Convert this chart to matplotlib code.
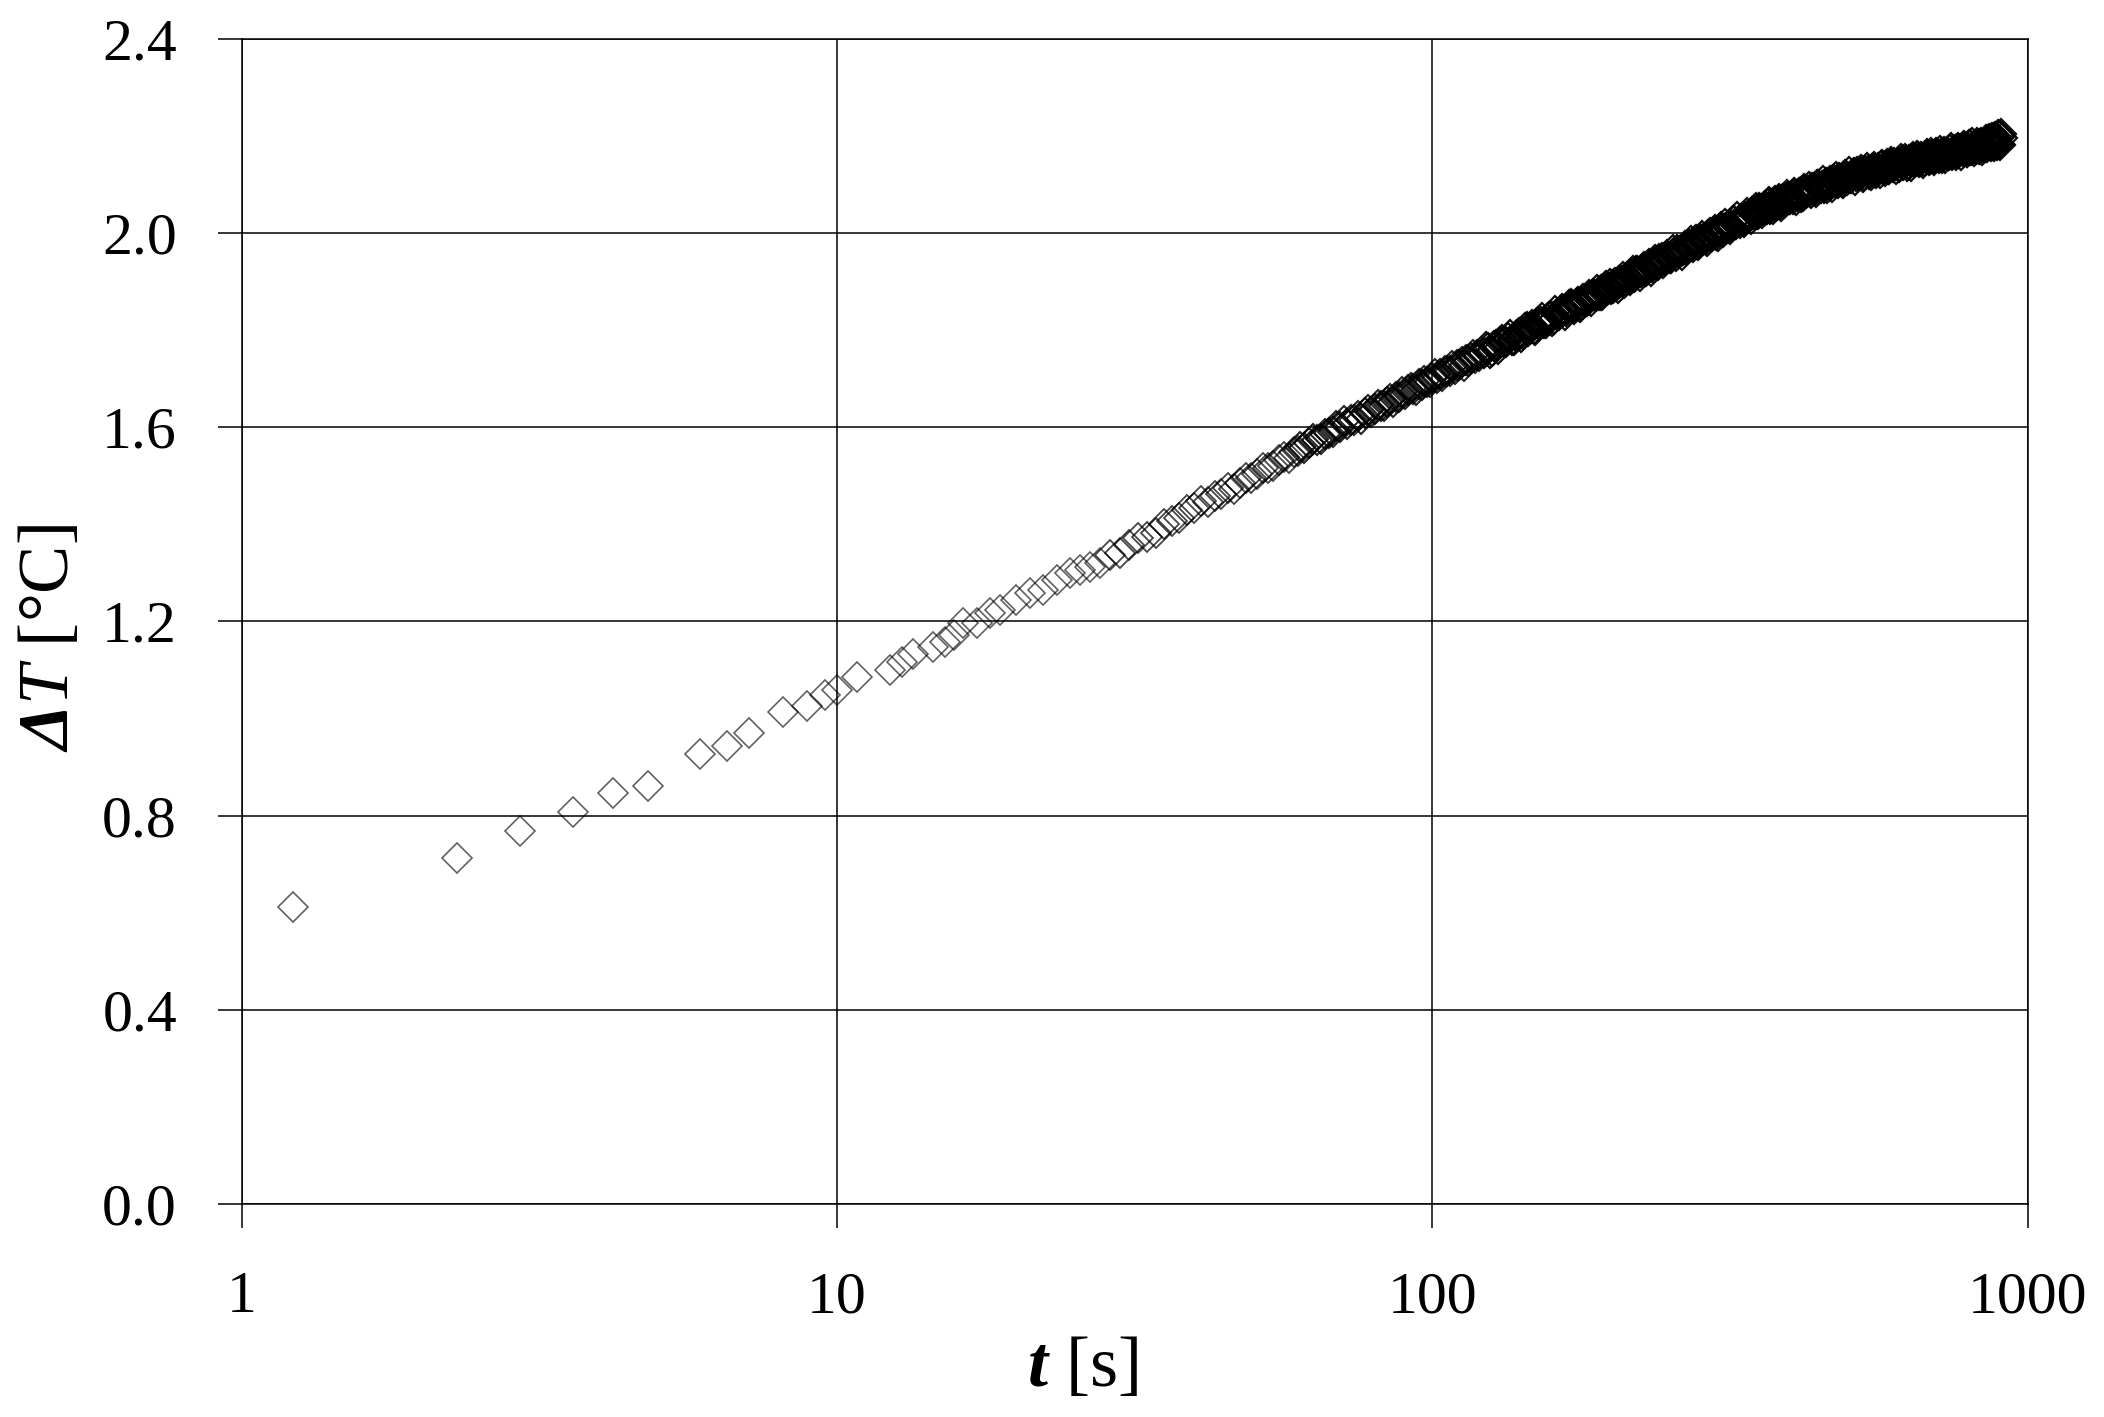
import matplotlib
matplotlib.use("Agg")
import matplotlib as mpl
import matplotlib.pyplot as plt
from matplotlib.ticker import FixedLocator, FixedFormatter, NullLocator

# ---------------- data ----------------
t_sparse = [1.22, 2.30, 2.94, 3.61, 4.20, 4.81, 5.88, 6.55, 7.12, 8.13,
            8.90, 9.55, 10.0, 10.8, 12.3, 12.85, 13.4, 14.5, 15.2, 15.7,
            16.3, 17.2, 18.1, 18.8, 20.0, 21.1, 22.2, 23.4, 24.6, 25.6,
            26.6, 27.7]
dT_sparse = [0.611, 0.712, 0.768, 0.808, 0.847, 0.861, 0.927, 0.944, 0.971, 1.014,
             1.025, 1.049, 1.059, 1.085, 1.100, 1.117, 1.134, 1.148, 1.158, 1.172,
             1.196, 1.196, 1.217, 1.224, 1.244, 1.258, 1.265, 1.286, 1.299, 1.306,
             1.313, 1.320]

t_b = [28.8, 29.9, 31.0, 32.1, 33.2, 34.3, 35.4, 36.5, 37.6, 38.7,
       39.8, 40.9, 42.0, 43.1, 44.2, 45.3, 46.4, 47.5, 48.6, 49.7,
       50.8, 51.9, 53.0, 54.1, 55.2, 56.3, 57.4, 58.5, 59.6]
dT_b = [1.337, 1.341, 1.357, 1.372, 1.375, 1.383, 1.400, 1.407, 1.414, 1.430,
        1.434, 1.449, 1.446, 1.459, 1.463, 1.474, 1.472, 1.486, 1.495, 1.495,
        1.504, 1.516, 1.516, 1.520, 1.532, 1.539, 1.537, 1.549, 1.552]

t_c = [60, 61, 62, 63, 64, 65, 66, 67, 68, 69,
       70, 71, 72, 73, 74, 75, 76, 77, 78, 79,
       80, 81, 82, 83, 84, 85, 86, 87, 88, 89,
       90, 91, 92, 93, 94, 95, 96, 97, 98, 99,
       100, 101, 102, 103, 104, 105, 106, 107, 108, 109,
       110, 111, 112, 113, 114, 115, 116, 117, 118, 119, 120]
dT_c = [1.559, 1.557, 1.567, 1.576, 1.573, 1.575, 1.586, 1.589, 1.590, 1.602,
        1.601, 1.612, 1.606, 1.615, 1.615, 1.624, 1.618, 1.629, 1.635, 1.632,
        1.638, 1.646, 1.644, 1.644, 1.653, 1.658, 1.653, 1.662, 1.662, 1.672,
        1.668, 1.676, 1.682, 1.679, 1.677, 1.689, 1.687, 1.696, 1.694, 1.693,
        1.702, 1.709, 1.702, 1.709, 1.706, 1.716, 1.716, 1.717, 1.726, 1.720,
        1.728, 1.728, 1.735, 1.727, 1.739, 1.736, 1.742, 1.748, 1.742, 1.748, 1.746]

t_d = [122, 124, 126, 128, 130, 132, 134, 136, 138, 140,
       142, 144, 146, 148, 150, 152, 154, 156, 158, 160,
       162, 164, 166, 168, 170, 172, 174, 176, 178, 180,
       182, 184, 186, 188, 190, 192, 194, 196, 198, 200,
       202, 204, 206, 208, 210, 212, 214, 216, 218, 220,
       222, 224, 226, 228, 230, 232, 234, 236, 238, 240]
dT_d = [1.753, 1.763, 1.758, 1.769, 1.775, 1.775, 1.785, 1.780, 1.788, 1.794,
        1.793, 1.806, 1.802, 1.803, 1.814, 1.816, 1.815, 1.824, 1.830, 1.823,
        1.833, 1.835, 1.842, 1.839, 1.851, 1.849, 1.850, 1.859, 1.853, 1.863,
        1.861, 1.868, 1.875, 1.871, 1.872, 1.882, 1.882, 1.891, 1.887, 1.885,
        1.895, 1.893, 1.902, 1.902, 1.898, 1.909, 1.908, 1.913, 1.910, 1.921,
        1.919, 1.919, 1.927, 1.921, 1.930, 1.935, 1.930, 1.938, 1.937, 1.946]

t_d2 = [123, 125, 127, 129, 131, 133, 135, 137, 139, 141,
        143, 145, 147, 149, 151, 153, 155, 157, 159, 161,
        163, 165, 167, 169, 171, 173, 175, 177, 179, 181,
        183, 185, 187, 189, 191, 193, 195, 197, 199, 201,
        203, 205, 207, 209, 211, 213, 215, 217, 219, 221,
        223, 225, 227, 229, 231, 233, 235, 237, 239]
dT_d2 = [1.765, 1.754, 1.768, 1.761, 1.780, 1.776, 1.791, 1.780, 1.791, 1.786,
         1.805, 1.798, 1.811, 1.800, 1.815, 1.825, 1.815, 1.828, 1.820, 1.840,
         1.831, 1.843, 1.832, 1.845, 1.854, 1.844, 1.856, 1.847, 1.864, 1.861,
         1.873, 1.861, 1.873, 1.883, 1.873, 1.872, 1.889, 1.884, 1.896, 1.886,
         1.898, 1.888, 1.900, 1.910, 1.899, 1.910, 1.903, 1.921, 1.912, 1.922,
         1.912, 1.924, 1.931, 1.923, 1.937, 1.923, 1.935, 1.945, 1.934]

t_e = [243, 246, 249, 252, 255, 258, 261, 264, 267, 270,
       273, 276, 279, 282, 285, 288, 291, 294, 297, 300,
       303, 306, 309, 312, 315, 318, 321, 324, 327, 330,
       333, 336, 339, 342, 345, 348, 351, 354, 357, 360,
       363, 366, 369, 372, 375, 378, 381, 384, 387, 390,
       393, 396, 399]
dT_e = [1.948, 1.944, 1.951, 1.949, 1.959, 1.966, 1.961, 1.966, 1.966, 1.976,
        1.975, 1.984, 1.976, 1.987, 1.988, 1.987, 1.997, 1.994, 2.002, 1.996,
        2.004, 2.013, 2.009, 2.008, 2.017, 2.015, 2.025, 2.019, 2.026, 2.030,
        2.024, 2.034, 2.035, 2.036, 2.044, 2.038, 2.046, 2.051, 2.045, 2.051,
        2.050, 2.060, 2.050, 2.060, 2.058, 2.061, 2.066, 2.061, 2.068, 2.063,
        2.070, 2.074, 2.070]

t_e2 = [244.5, 247.5, 250.5, 253.5, 256.5, 259.5, 262.5, 265.5, 268.5, 271.5,
        274.5, 277.5, 280.5, 283.5, 286.5, 289.5, 292.5, 295.5, 298.5, 301.5,
        304.5, 307.5, 310.5, 313.5, 316.5, 319.5, 322.5, 325.5, 328.5, 331.5,
        334.5, 337.5, 340.5, 343.5, 346.5, 349.5, 352.5, 355.5, 358.5, 361.5,
        364.5, 367.5, 370.5, 373.5, 376.5, 379.5, 382.5, 385.5, 388.5, 391.5,
        394.5, 397.5]
dT_e2 = [1.938, 1.956, 1.949, 1.965, 1.953, 1.964, 1.956, 1.974, 1.971, 1.983,
         1.971, 1.985, 1.979, 1.995, 1.987, 1.984, 2.000, 1.994, 2.007, 1.994,
         2.009, 2.003, 2.019, 2.013, 2.009, 2.025, 2.018, 2.033, 2.021, 2.030,
         2.023, 2.041, 2.034, 2.030, 2.045, 2.051, 2.039, 2.049, 2.042, 2.056,
         2.049, 2.064, 2.055, 2.050, 2.066, 2.059, 2.070, 2.056, 2.070, 2.064,
         2.078, 2.070]

t_f = [403, 407, 411, 415, 419, 423, 427, 431, 435, 439,
       443, 447, 451, 455, 459, 463, 467, 471, 475, 479,
       483, 487, 491, 495, 499, 503, 507, 511, 515, 519,
       523, 527, 531, 535, 539, 543, 547, 551, 555, 559,
       563, 567, 571, 575, 579, 583, 587, 591, 595, 599]
dT_f = [2.071, 2.081, 2.077, 2.082, 2.076, 2.088, 2.086, 2.086, 2.093, 2.088,
        2.099, 2.094, 2.098, 2.094, 2.103, 2.104, 2.101, 2.110, 2.105, 2.108,
        2.113, 2.105, 2.113, 2.117, 2.114, 2.113, 2.120, 2.124, 2.117, 2.122,
        2.120, 2.129, 2.119, 2.125, 2.129, 2.126, 2.132, 2.126, 2.132, 2.127,
        2.133, 2.138, 2.132, 2.134, 2.139, 2.132, 2.140, 2.143, 2.137, 2.141]

t_f2 = [405, 409, 413, 417, 421, 425, 429, 433, 437, 441,
        445, 449, 453, 457, 461, 465, 469, 473, 477, 481,
        485, 489, 493, 497, 501, 505, 509, 513, 517, 521,
        525, 529, 533, 537, 541, 545, 549, 553, 557, 561,
        565, 569, 573, 577, 581, 585, 589, 593, 597, 601]
dT_f2 = [2.082, 2.068, 2.083, 2.075, 2.091, 2.082, 2.096, 2.082, 2.093, 2.085,
         2.100, 2.092, 2.107, 2.097, 2.094, 2.108, 2.095, 2.109, 2.115, 2.103,
         2.111, 2.103, 2.120, 2.109, 2.125, 2.114, 2.122, 2.110, 2.126, 2.120,
         2.130, 2.116, 2.127, 2.134, 2.121, 2.119, 2.130, 2.136, 2.124, 2.135,
         2.123, 2.141, 2.132, 2.128, 2.142, 2.133, 2.147, 2.138, 2.145, 2.133]

t_g = [605, 610, 615, 620, 625, 630, 635, 640, 645, 650,
       655, 660, 665, 670, 675, 680, 685, 690, 695, 700,
       705, 710, 715, 720, 725, 730, 735, 740, 745, 750,
       755, 760, 765, 770, 775, 780, 785, 790, 795, 800,
       805, 810, 815, 820, 825, 830, 835, 840, 845, 850,
       855, 860, 865, 870, 875, 880, 885, 890, 895, 900,
       903, 906]
dT_g = [2.144, 2.139, 2.149, 2.144, 2.149, 2.141, 2.148, 2.152, 2.147, 2.150,
        2.157, 2.149, 2.155, 2.149, 2.156, 2.159, 2.152, 2.162, 2.157, 2.157,
        2.164, 2.155, 2.163, 2.165, 2.160, 2.165, 2.160, 2.171, 2.166, 2.165,
        2.171, 2.165, 2.174, 2.169, 2.173, 2.169, 2.176, 2.168, 2.175, 2.181,
        2.174, 2.176, 2.180, 2.174, 2.181, 2.179, 2.185, 2.178, 2.183, 2.187,
        2.178, 2.191, 2.181, 2.194, 2.182, 2.196, 2.185, 2.195, 2.183, 2.201,
        2.205, 2.196]

t_g2 = [607.5, 612.5, 617.5, 622.5, 627.5, 632.5, 637.5, 642.5, 647.5, 652.5,
        657.5, 662.5, 667.5, 672.5, 677.5, 682.5, 687.5, 692.5, 697.5, 702.5,
        707.5, 712.5, 717.5, 722.5, 727.5, 732.5, 737.5, 742.5, 747.5, 752.5,
        757.5, 762.5, 767.5, 772.5, 777.5, 782.5, 787.5, 792.5, 797.5, 802.5,
        807.5, 812.5, 817.5, 822.5, 827.5, 832.5, 837.5, 842.5, 847.5, 852.5,
        857.5, 862.5, 867.5, 872.5, 877.5, 882.5, 887.5, 892.5, 897.5]
dT_g2 = [2.136, 2.153, 2.141, 2.152, 2.139, 2.150, 2.139, 2.156, 2.148, 2.159,
         2.146, 2.157, 2.145, 2.157, 2.163, 2.151, 2.166, 2.155, 2.151, 2.166,
         2.160, 2.169, 2.155, 2.168, 2.155, 2.168, 2.161, 2.175, 2.161, 2.169,
         2.161, 2.176, 2.167, 2.162, 2.177, 2.180, 2.171, 2.167, 2.181, 2.172,
         2.185, 2.169, 2.180, 2.186, 2.174, 2.184, 2.172, 2.183, 2.178, 2.192,
         2.181, 2.194, 2.180, 2.197, 2.179, 2.199, 2.182, 2.202, 2.182]

x_ticks = [1, 10, 100, 1000]
x_tick_labels = ["1", "10", "100", "1000"]
y_ticks = [0.0, 0.4, 0.8, 1.2, 1.6, 2.0, 2.4]
y_tick_labels = ["0.0", "0.4", "0.8", "1.2", "1.6", "2.0", "2.4"]


def paired(tt, dd):
    n = min(len(tt), len(dd))
    return list(tt[:n]), list(dd[:n])


# ---------------- style ----------------
serif = "Liberation Serif"
plt.rcParams["font.family"] = [serif, "DejaVu Serif"]
plt.rcParams["mathtext.fontset"] = "custom"
plt.rcParams["mathtext.rm"] = serif
plt.rcParams["mathtext.it"] = serif + ":italic"
plt.rcParams["mathtext.bf"] = serif + ":bold"
has_bfit = "mathtext.bfit" in mpl.rcParams
if has_bfit:
    plt.rcParams["mathtext.bfit"] = serif + ":italic:bold"
bfit = r"\mathbfit" if has_bfit else r"\mathbf"

fig = plt.figure(figsize=(21.04, 14.17), dpi=100)
fig.patch.set_facecolor("white")
ax = fig.add_axes([0.1148, 0.1503, 0.8489, 0.8222])

# one series; outlines overlap and darken where samples are dense
segments = [
    ((t_sparse, dT_sparse), 0.62, 1.2),
    ((t_b, dT_b), 0.72, 1.3),
    ((t_c, dT_c), 0.85, 1.5),
    ((t_d, dT_d), 0.95, 1.6),
    ((t_d2, dT_d2), 0.95, 1.6),
    ((t_e, dT_e), 0.95, 1.6),
    ((t_e2, dT_e2), 0.95, 1.6),
    ((t_f, dT_f), 0.95, 1.6),
    ((t_f2, dT_f2), 0.95, 1.6),
    ((t_g, dT_g), 0.95, 1.6),
    ((t_g2, dT_g2), 0.95, 1.6),
]
for (tt, dd), alpha, mew in segments:
    x, y = paired(tt, dd)
    ax.plot(x, y, linestyle="none", marker="D", markersize=15,
            markerfacecolor="none", markeredgecolor="black",
            markeredgewidth=mew, alpha=alpha, zorder=3)

ax.set_xscale("log")
ax.set_xlim(1, 1000)
ax.set_ylim(0, 2.4)
ax.xaxis.set_major_locator(FixedLocator(x_ticks))
ax.xaxis.set_major_formatter(FixedFormatter(x_tick_labels))
ax.xaxis.set_minor_locator(NullLocator())
ax.yaxis.set_major_locator(FixedLocator(y_ticks))
ax.yaxis.set_major_formatter(FixedFormatter(y_tick_labels))
ax.yaxis.set_minor_locator(NullLocator())

ax.grid(True, which="major", color="black", linewidth=1.1)
for sp in ax.spines.values():
    sp.set_color("black")
    sp.set_linewidth(1.1)

ax.tick_params(axis="both", which="major", direction="out", length=17.5,
               width=1.1, color="black", labelsize=43, labelcolor="black")
ax.tick_params(axis="x", pad=31)
ax.tick_params(axis="y", pad=29)

ax.set_xlabel(r"$%s{t}$ [s]" % bfit, fontsize=52)
ax.set_ylabel(r"$%s{\Delta}\mathit{T}$ [°C]" % bfit, fontsize=52)
ax.xaxis.set_label_coords(0.471, -0.113)
ax.yaxis.set_label_coords(-0.107, 0.486)
ax.xaxis.label.set_verticalalignment("top")
ax.yaxis.label.set_verticalalignment("center")

fig.savefig("out.png", dpi=100, facecolor="white")
